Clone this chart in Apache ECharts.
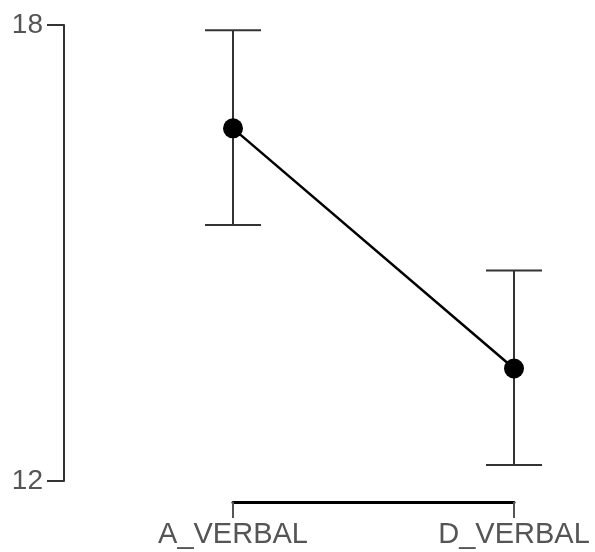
<!DOCTYPE html>
<html>
<head>
    <meta charset="utf-8">
    <script src="https://cdn.jsdelivr.net/npm/echarts@6/dist/echarts.min.js"></script>
    <style>
        html, body { margin: 0; padding: 0; background: #fff; }
    </style>
</head>
<body>
    <div id="chart" style="width: 595px;height:552px;"></div>
    <script type="text/javascript">
        // data
        var categories = ['A_VERBAL', 'D_VERBAL'];
        var means = [16.64, 13.48];
        var errLow = [15.37, 12.21];
        var errHigh = [17.93, 14.77];
        var yMin = 12, yMax = 18;

        var errData = [];
        for (var i = 0; i < categories.length; i++) {
            errData.push([i, errLow[i], errHigh[i]]);
        }

        var myChart = echarts.init(document.getElementById('chart'));
        var option = {
            animation: false,
            grid: { left: 233, right: 81, top: 25, bottom: 71 },
            xAxis: {
                type: 'category',
                data: categories,
                boundaryGap: false,
                offset: 21,
                axisLine: { lineStyle: { color: '#000', width: 3 } },
                axisTick: { length: 16, lineStyle: { color: '#555', width: 2 } },
                axisLabel: {
                    margin: 18,
                    color: '#555',
                    fontSize: 29,
                    fontFamily: 'Liberation Sans, Arial, sans-serif'
                },
                splitLine: { show: false }
            },
            yAxis: {
                type: 'value',
                min: yMin,
                max: yMax,
                interval: yMax - yMin,
                offset: 169,
                axisLine: { show: true, lineStyle: { color: '#333', width: 2 } },
                axisTick: { show: true, length: 17, lineStyle: { color: '#333', width: 2 } },
                axisLabel: {
                    margin: 21,
                    color: '#555',
                    fontSize: 28,
                    fontFamily: 'Liberation Sans, Arial, sans-serif'
                },
                splitLine: { show: false }
            },
            series: [
                {
                    type: 'custom',
                    data: errData,
                    z: 2,
                    renderItem: function (params, api) {
                        var x = api.value(0);
                        var lo = api.coord([x, api.value(1)]);
                        var hi = api.coord([x, api.value(2)]);
                        var hw = 28;
                        var st = { stroke: '#333', lineWidth: 2 };
                        return {
                            type: 'group',
                            children: [
                                { type: 'line', shape: { x1: lo[0], y1: lo[1], x2: hi[0], y2: hi[1] }, style: st },
                                { type: 'line', shape: { x1: hi[0] - hw, y1: hi[1], x2: hi[0] + hw, y2: hi[1] }, style: st },
                                { type: 'line', shape: { x1: lo[0] - hw, y1: lo[1], x2: lo[0] + hw, y2: lo[1] }, style: st }
                            ]
                        };
                    }
                },
                {
                    type: 'line',
                    data: means,
                    z: 3,
                    symbol: 'circle',
                    symbolSize: 20,
                    itemStyle: { color: '#000' },
                    lineStyle: { color: '#000', width: 2.5 }
                }
            ]
        };
        myChart.setOption(option);
    </script>
</body>
</html>
